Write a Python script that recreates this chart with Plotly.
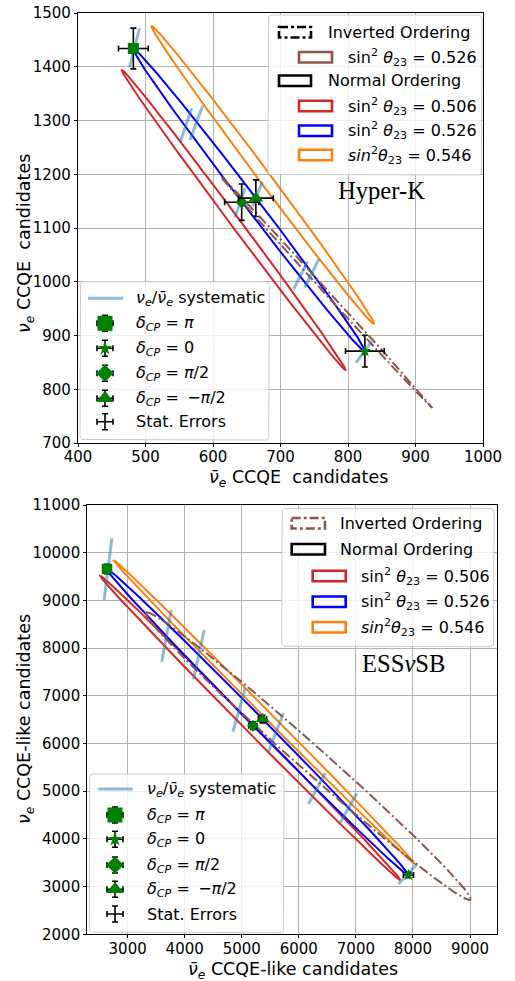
import numpy as np
import plotly.graph_objects as go

W, H = 515, 981

# ---------------- data ----------------
# Ellipse anchor points at delta_CP = 0, pi/2, pi, -pi/2
# Hyper-K panel
hk_no506_x = [796.0, 621.5, 465.0, 639.5]
hk_no506_y = [836.0, 1115.0, 1394.0, 1115.0]
hk_no526_x = [825.0, 642.5, 482.0, 663.5]
hk_no526_y = [871.0, 1148.0, 1434.0, 1155.5]
hk_no546_x = [838.0, 662.4, 509.0, 684.6]
hk_no546_y = [922.0, 1199.0, 1476.0, 1199.0]
hk_io526_x = [924.0, 764.0, 612.5, 772.5]
hk_io526_y = [766.5, 980.5, 1194.5, 980.5]

# markers: delta_CP = pi, 0, pi/2, -pi/2 (on NO, sin2=0.526)
hk_pt_x = [482.0, 825.0, 642.5, 663.5]
hk_pt_y = [1434.0, 871.0, 1148.0, 1155.5]
hk_err_x = [22.0, 28.7, 25.3, 25.8]
hk_err_y = [37.9, 29.5, 33.9, 34.0]

# systematic segments (x0, y0, x1, y1)
hk_sys_x0 = [476.3, 551.1, 565.9, 632.6, 658.5, 719.5, 735.5, 811.9]
hk_sys_y0 = [1399.0, 1258.7, 1263.7, 1120.0, 1139.6, 986.0, 989.0, 849.4]
hk_sys_x1 = [491.1, 568.4, 584.7, 647.4, 673.0, 740.0, 757.0, 835.1]
hk_sys_y1 = [1471.5, 1322.7, 1327.5, 1174.0, 1186.0, 1037.3, 1042.0, 888.4]

# ESSnuSB panel
ess_no506_x = [7776.0, 5042.0, 2518.0, 5252.0]
ess_no506_y = [3138.0, 6328.0, 9518.0, 6328.0]
ess_no526_x = [7921.0, 5194.0, 2639.0, 5363.0]
ess_no526_y = [3243.0, 6373.0, 9658.0, 6513.0]
ess_no546_x = [8033.0, 5304.0, 2751.0, 5480.0]
ess_no546_y = [3474.0, 6660.5, 9847.0, 6660.5]
ess_io526_x = [8990.0, 5823.0, 3340.0, 6507.0]
ess_io526_y = [2719.0, 5734.5, 8750.0, 5734.5]

ess_pt_x = [2639.0, 7921.0, 5194.0, 5363.0]
ess_pt_y = [9658.0, 3243.0, 6373.0, 6513.0]
ess_err_x = [51.4, 89.0, 72.1, 73.2]
ess_err_y = [98.3, 56.9, 79.8, 80.7]

ess_sys_x0 = [2588, 3599, 4153, 4844, 5468, 6169, 6724, 7746]
ess_sys_y0 = [9008, 7715, 7346, 6247, 5828, 4732, 4340, 3055]
ess_sys_x1 = [2723, 3762, 4341, 5059, 5730, 6461, 7017, 8068]
ess_sys_y1 = [10302, 8799, 8379, 7157, 6633, 5375, 4956, 3468]

hk_xticks = [400, 500, 600, 700, 800, 900, 1000]
hk_yticks = [700, 800, 900, 1000, 1100, 1200, 1300, 1400, 1500]
ess_xticks = [3000, 4000, 5000, 6000, 7000, 8000, 9000]
ess_yticks = [2000, 3000, 4000, 5000, 6000, 7000, 8000, 9000, 10000, 11000]

delta_labels = ["<i>δ</i><sub><i>CP</i></sub> = <i>π</i>",
                "<i>δ</i><sub><i>CP</i></sub> = 0",
                "<i>δ</i><sub><i>CP</i></sub> = <i>π</i>/2",
                "<i>δ</i><sub><i>CP</i></sub> = \u2009\u2212<i>π</i>/2"]
th_labels = ["sin<sup>2</sup> <i>θ</i><sub>23</sub> = 0.506",
             "sin<sup>2</sup> <i>θ</i><sub>23</sub> = 0.526",
             "<i>sin</i><sup>2</sup><i>θ</i><sub>23</sub> = 0.546"]

RED, BLUE, ORANGE, BROWN = "#d62728", "#0000ff", "#ff7f0e", "#8c564b"
GREEN = "#008000"
SYS = "rgba(31,119,180,0.5)"
FONT = "DejaVu Sans"
SYMS = ["square", "star", "diamond", "triangle-up"]


def ellipse(xs, ys, n=721):
    d = np.linspace(-np.pi, np.pi, n)
    out = []
    for v in (xs, ys):
        a = (v[0] + v[1] + v[2] + v[3]) / 4.0
        b = (v[0] - v[2]) / 2.0
        c = (v[1] - v[3]) / 2.0
        out.append(a + b * np.cos(d) + c * np.sin(d))
    return out


def segs(x0, y0, x1, y1):
    xs, ys = [], []
    for a, b, c, d in zip(x0, y0, x1, y1):
        xs += [a, c, None]
        ys += [b, d, None]
    return xs, ys


fig = go.Figure()
DASHDOT = "10px,3px,2px,3px"

panels = [
    ("x", "y", [(hk_no506_x, hk_no506_y, RED, "solid"), (hk_no526_x, hk_no526_y, BLUE, "solid"),
                (hk_no546_x, hk_no546_y, ORANGE, "solid"), (hk_io526_x, hk_io526_y, BROWN, DASHDOT)],
     (hk_sys_x0, hk_sys_y0, hk_sys_x1, hk_sys_y1), (hk_pt_x, hk_pt_y, hk_err_x, hk_err_y),
     [11.0, 9.5, 9.5, 13.0]),
    ("x2", "y2", [(ess_no506_x, ess_no506_y, RED, "solid"), (ess_no526_x, ess_no526_y, BLUE, "solid"),
                  (ess_no546_x, ess_no546_y, ORANGE, "solid"), (ess_io526_x, ess_io526_y, BROWN, DASHDOT)],
     (ess_sys_x0, ess_sys_y0, ess_sys_x1, ess_sys_y1), (ess_pt_x, ess_pt_y, ess_err_x, ess_err_y),
     [10.5, 9.0, 9.0, 12.0]),
]

for xa, ya, ells, sysd, pts, msz in panels:
    for xs, ys, col, dash in ells:
        ex, ey = ellipse(xs, ys)
        fig.add_trace(go.Scatter(x=ex, y=ey, mode="lines", xaxis=xa, yaxis=ya,
                                 line=dict(color=col, width=2, dash=dash),
                                 showlegend=False, hoverinfo="skip"))
    sx, sy = segs(*sysd)
    fig.add_trace(go.Scatter(x=sx, y=sy, mode="lines", xaxis=xa, yaxis=ya,
                             line=dict(color=SYS, width=3), connectgaps=False,
                             showlegend=False, hoverinfo="skip"))
    px_, py_, ex_, ey_ = pts
    for i in range(4):
        fig.add_trace(go.Scatter(
            x=[px_[i]], y=[py_[i]], mode="markers", xaxis=xa, yaxis=ya,
            marker=dict(symbol=SYMS[i], size=msz[i], color=GREEN, line=dict(width=0)),
            error_x=dict(type="data", array=[ex_[i]], color="black", thickness=1.6, width=3),
            error_y=dict(type="data", array=[ey_[i]], color="black", thickness=1.6, width=3),
            showlegend=False, hoverinfo="skip"))

# ---------------- legends (drawn in a pixel overlay axis) ----------------
shapes = []
annotations = []


def box(x0, y0, x1, y1, r=4.0, n=7):
    pts = []
    for cx, cy, a0, a1 in [(x1 - r, y0 + r, -90, 0), (x1 - r, y1 - r, 0, 90),
                           (x0 + r, y1 - r, 90, 180), (x0 + r, y0 + r, 180, 270)]:
        for a in np.radians(np.linspace(a0, a1, n)):
            pts.append((cx + r * np.cos(a), cy + r * np.sin(a)))
    pts.append(pts[0])
    fig.add_trace(go.Scatter(x=[p[0] for p in pts], y=[p[1] for p in pts], mode="lines",
                             fill="toself", fillcolor="rgba(255,255,255,0.8)",
                             line=dict(color="#cccccc", width=1), xaxis="x3", yaxis="y3",
                             showlegend=False, hoverinfo="skip"))


def text(x, y, s, size=16, anchor="left", family=FONT, angle=0):
    annotations.append(dict(x=x, y=y, xref="x3", yref="y3", text=s, showarrow=False,
                            xanchor=anchor, yanchor="middle", textangle=angle,
                            font=dict(family=family, size=size, color="black")))


def patch(x0, x1, yc, col, dash="solid", h=10.5):
    shapes.append(dict(type="rect", xref="x3", yref="y3", x0=x0, x1=x1, y0=yc - h / 2, y1=yc + h / 2,
                       line=dict(color=col, width=2.6, dash=dash), fillcolor="rgba(0,0,0,0)",
                       layer="above"))


# Hyper-K upper-right legend
box(268, 15, 482, 175)
patch(279, 311, 32.3, "black", "dashdot")
text(325.7, 32.3, "Inverted Ordering")
patch(299, 332, 57.3, BROWN)
text(346, 57.3, th_labels[1])
patch(279, 311, 80.7, "black")
text(325.7, 80.7, "Normal Ordering")
for yc, col, lab in zip([106, 130.7, 155], [RED, BLUE, ORANGE], th_labels):
    patch(299, 332, yc, col)
    text(346, yc, lab)

# ESSnuSB upper-right legend
box(281.7, 508.3, 494, 646.7)
patch(291.7, 325, 523.3, BROWN, "dashdot")
text(338.3, 523.3, "Inverted Ordering")
patch(291.7, 325, 549.3, "black")
text(338.3, 549.3, "Normal Ordering")
for yc, col, lab in zip([576, 601.7, 627.3], [RED, BLUE, ORANGE], th_labels):
    patch(312.7, 345.7, yc, col)
    text(359.3, yc, lab)

sys_label = "<i>ν</i><sub><i>e</i></sub>/<i>ν\u0304</i><sub><i>e</i></sub> systematic"
leg_sizes = [15.0, 11.0, 13.5, 15.0]


def lower_legend(bx0, by0, bx1, by1, lx0, lx1, mx, tx, ys):
    box(bx0, by0, bx1, by1)
    fig.add_trace(go.Scatter(x=[lx0, lx1], y=[ys[0], ys[0]], mode="lines", xaxis="x3", yaxis="y3",
                             line=dict(color=SYS, width=3), showlegend=False, hoverinfo="skip"))
    text(tx, ys[0], sys_label)
    for i in range(4):
        fig.add_trace(go.Scatter(
            x=[mx], y=[ys[i + 1]], mode="markers", xaxis="x3", yaxis="y3",
            marker=dict(symbol=SYMS[i], size=leg_sizes[i], color=GREEN, line=dict(width=0)),
            error_x=dict(type="constant", value=8, color="black", thickness=1.6, width=3),
            error_y=dict(type="constant", value=8, color="black", thickness=1.6, width=3),
            showlegend=False, hoverinfo="skip"))
        text(tx, ys[i + 1], delta_labels[i])
    fig.add_trace(go.Scatter(
        x=[mx], y=[ys[5]], mode="markers", xaxis="x3", yaxis="y3",
        marker=dict(size=1, color="rgba(0,0,0,0)"),
        error_x=dict(type="constant", value=8, color="black", thickness=1.6, width=3),
        error_y=dict(type="constant", value=8, color="black", thickness=1.6, width=3),
        showlegend=False, hoverinfo="skip"))
    text(tx, ys[5], "Stat. Errors")


lower_legend(80, 281.7, 269.3, 440, 88, 123, 105, 134, [298.3, 323.3, 348.3, 373.3, 398.3, 421.7])
lower_legend(89.3, 774, 284, 932.7, 98.3, 132.7, 115, 145, [789, 815, 839.3, 865, 889.3, 914])

# experiment labels
text(381.3, 190, "Hyper-K", size=24.6, anchor="center", family="Liberation Serif")
text(403.3, 663, "ESS<i>ν</i>SB", size=24.6, anchor="center", family="Liberation Serif")

# axis titles
nb = "\u00a0"
text(298.5, 478, "<i>ν\u0304</i><sub><i>e</i></sub> CCQE" + nb + nb + "candidates", size=17.5, anchor="center")
text(25, 244, "<i>ν</i><sub><i>e</i></sub> CCQE" + nb + nb + "candidates", size=17.5, anchor="center", angle=-90)
text(292.5, 970.5, "<i>ν\u0304</i><sub><i>e</i></sub> CCQE-like candidates", size=17.5, anchor="center")
text(25, 719, "<i>ν</i><sub><i>e</i></sub> CCQE-like candidates", size=17.5, anchor="center", angle=-90)

ax = dict(showgrid=True, gridcolor="#b0b0b0", gridwidth=0.8, zeroline=False, showline=True,
          linecolor="black", linewidth=1.2, mirror=True, ticks="outside", ticklen=3, tickwidth=1,
          tickcolor="black", tickfont=dict(family=FONT, size=15, color="black"), automargin=False,
          fixedrange=True, tickmode="array")

fig.update_layout(
    width=W, height=H, margin=dict(l=0, r=0, t=0, b=0),
    paper_bgcolor="white", plot_bgcolor="rgba(0,0,0,0)", showlegend=False,
    xaxis=dict(ax, domain=[78 / W, 483 / W], range=[400, 1000], tickvals=hk_xticks,
               ticktext=[str(v) for v in hk_xticks], anchor="y", ticklabelstandoff=-3),
    yaxis=dict(ax, domain=[1 - 443 / H, 1 - 13 / H], range=[700, 1500], tickvals=hk_yticks,
               ticktext=[str(v) for v in hk_yticks], anchor="x"),
    xaxis2=dict(ax, domain=[87.3 / W, 497.3 / W], range=[2293, 9478], tickvals=ess_xticks,
                ticktext=[str(v) for v in ess_xticks], anchor="y2", ticklabelstandoff=-2),
    yaxis2=dict(ax, domain=[1 - 934.3 / H, 1 - 505 / H], range=[2000, 11000], tickvals=ess_yticks,
                ticktext=[str(v) for v in ess_yticks], anchor="x2"),
    xaxis3=dict(domain=[0, 1], range=[0, W], visible=False, anchor="y3", fixedrange=True),
    yaxis3=dict(domain=[0, 1], range=[H, 0], visible=False, anchor="x3", fixedrange=True),
    shapes=shapes, annotations=annotations,
)

fig.write_html("out.html", config={"displayModeBar": False},
               post_script="document.body.style.margin='0';")
